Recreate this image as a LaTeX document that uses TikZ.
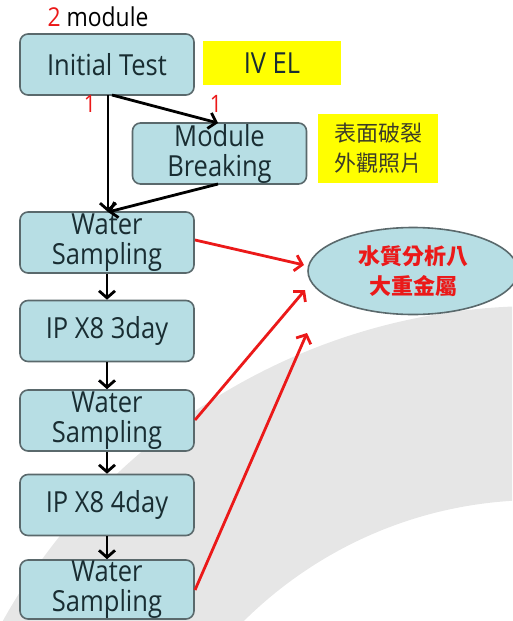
\documentclass[tikz,border=0pt]{standalone}
\usepackage{fontspec}
\setmainfont{Open Sans}[FakeStretch=0.88]
\newfontfamily\cjk{Noto Sans CJK TC}
\usetikzlibrary{arrows.meta,shapes.geometric}
\definecolor{boxfill}{RGB}{183,222,228}
\definecolor{boxdraw}{RGB}{90,105,108}
\definecolor{boxtext}{RGB}{25,45,50}
\definecolor{ringgray}{RGB}{230,230,230}
\definecolor{redline}{RGB}{235,25,25}
\definecolor{yel}{RGB}{255,255,0}
\definecolor{cjkdark}{RGB}{60,60,40}
\tikzset{
  stepbox/.style={draw=boxdraw, line width=1.6pt, fill=boxfill, rounded corners=8pt,
    minimum width=174pt, minimum height=61pt, inner sep=0pt, align=center,
    text=boxtext, font=\fontsize{29}{30}\selectfont},
  yelbox/.style={fill=yel, inner sep=0pt, align=center},
  flow/.style={line width=2.8pt, -{Straight Barb[length=7pt,width=16pt]}},
  redflow/.style={flow, draw=redline},
  numlab/.style={text=redline, font=\fontsize{24}{24}\selectfont, inner sep=0pt}
}
\begin{document}
\begin{tikzpicture}[x=1pt,y=-1pt]
\useasboundingbox (0,0) rectangle (512,621);
\begin{scope}
  \clip (0,0) rectangle (512,621);
  \fill[ringgray, even odd rule] (538,918) circle[radius=612pt] (538,918) circle[radius=418pt];
\end{scope}

\node[inner sep=0pt, anchor=base, font=\fontsize{26}{26}\selectfont] (lbl) at (98,27)
  {\textcolor{redline}{2} module};

\node[stepbox] (it) at (107,64.5) {Initial Test};
\node[yelbox, minimum width=138pt, minimum height=44pt, font=\fontsize{29}{30}\selectfont, text=boxtext] (ivel) at (272,63) {IV EL};
\node[stepbox] (mb) at (219.5,153.5) {Module\\Breaking};
\node[yelbox, minimum width=120pt, minimum height=69pt, text=cjkdark, font=\cjk\fontsize{22}{30}\selectfont] (photo) at (378,148.5) {表面破裂\\外觀照片};
\node[stepbox] (ws1) at (107,242.5) {Water\\Sampling};
\node[stepbox] (ip3) at (107,331) {IP X8 3day};
\node[stepbox] (ws2) at (107,420.5) {Water\\Sampling};
\node[stepbox] (ip4) at (107,505) {IP X8 4day};
\node[stepbox, minimum height=59pt] (ws3) at (107,589.5) {Water\\Sampling};

\node[ellipse, draw=boxdraw, line width=1.6pt, fill=boxfill, minimum width=210pt, minimum height=87pt,
  inner sep=0pt, align=center, text=redline, font=\cjk\bfseries\fontsize{22}{30}\selectfont] (ana) at (413,271)
  {水質分析八\\大重金屬};

\coordinate (itout) at (108,95);
\coordinate (itout2) at (112,95);
\coordinate (wsin) at (108,212);
\coordinate (mbin) at (218,123);
\coordinate (mbout) at (218,184);
\coordinate (e1) at (304,265);
\coordinate (e2) at (305,290);
\coordinate (e3) at (307,333);
\coordinate (r1) at (195,240);
\coordinate (r2) at (195,420);
\coordinate (r3) at (195,590);

\draw[flow] (itout) -- (wsin);
\draw[flow] (itout2) -- (mbin);
\draw[flow] (mbout) -- (wsin);
\draw[flow] (ws1.south) -- (ip3.north);
\draw[flow] (ip3.south) -- (ws2.north);
\draw[flow] (ws2.south) -- (ip4.north);
\draw[flow] (ip4.south) -- (ws3.north);

\node[numlab] (n1) at (90,104) {1};
\node[numlab] (n2) at (216,104) {1};

\draw[redflow] (r1) -- (e1);
\draw[redflow] (r2) -- (e2);
\draw[redflow] (r3) -- (e3);
\end{tikzpicture}
\end{document}
